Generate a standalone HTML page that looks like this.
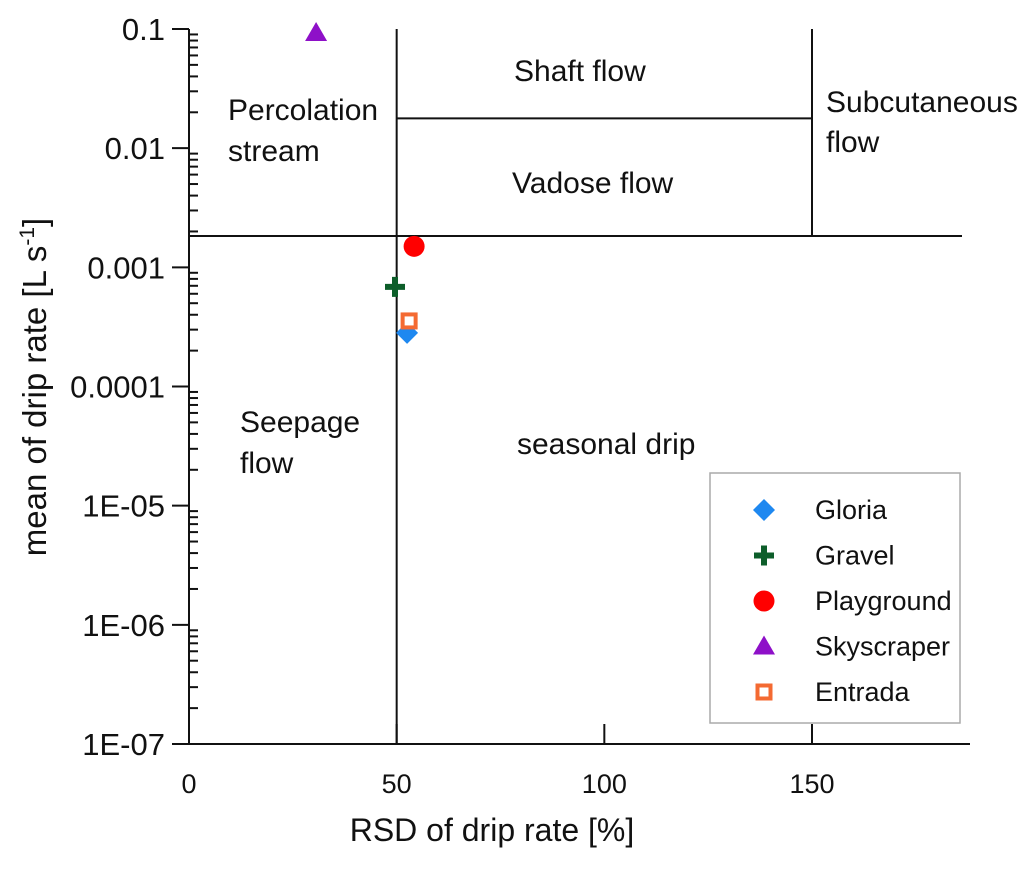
<!DOCTYPE html>
<html><head><meta charset="utf-8"><style>
body{margin:0;background:#fff}
svg text{font-family:"Liberation Sans",sans-serif;fill:#111}
</style></head><body>
<svg id="chart" width="1033" height="864" xmlns="http://www.w3.org/2000/svg">
<g id="axes" stroke="#111" stroke-width="2"></g>
<g id="regions" stroke="#111" stroke-width="2"></g>
<g id="labels" font-size="30">
<text x="228" y="120">Percolation</text>
<text x="228" y="161">stream</text>
<text x="514" y="81">Shaft flow</text>
<text x="512" y="193">Vadose flow</text>
<text x="826" y="112">Subcutaneous</text>
<text x="826" y="152">flow</text>
<text x="240" y="432">Seepage</text>
<text x="240" y="473">flow</text>
<text x="517" y="454">seasonal drip</text>
</g>
<g id="points"></g>
<text x="492" y="841" font-size="32" text-anchor="middle">RSD of drip rate [%]</text>
<text transform="translate(46,387) rotate(-90)" font-size="33" text-anchor="middle">mean of drip rate [L s<tspan dy="-12" font-size="21">-1</tspan><tspan dy="12">]</tspan></text>
<g>
<rect x="710" y="473" width="250" height="250" fill="#fff" stroke="#aaa" stroke-width="1.5"/>
<g id="legend" font-size="27"></g>
</g>
</svg>
<script>
const xTicks=[0,50,100,150];
const yTicks=[0.1,0.01,0.001,0.0001,1e-5,1e-6,1e-7];
const yTickLabels=["0.1","0.01","0.001","0.0001","1E-05","1E-06","1E-07"];
const seriesNames=["Gloria","Gravel","Playground","Skyscraper","Entrada"];
const seriesX=[52.5,49.6,54.2,30.6,53];
const seriesY=[0.000282,0.000685,0.0015,0.0926,0.000355];
const boundaryRSD=[50,150];
const boundaryMean=[0.00183,0.0178];

const NS="http://www.w3.org/2000/svg";
const X=v=>189+v*(812-189)/150;
const Y=v=>29+(-1-Math.log10(v))*(744-29)/6;
function el(t,a,p){const e=document.createElementNS(NS,t);for(const k in a)e.setAttribute(k,a[k]);p.appendChild(e);return e;}
const ax=document.getElementById('axes');
let e=el('line',{x1:X(0),y1:Y(0.1),x2:X(0),y2:Y(1e-7)},ax);


e=el('line',{x1:172,y1:Y(1e-7),x2:970,y2:Y(1e-7)},ax);


const svg=document.getElementById('chart');
yTicks.forEach((t,i)=>{
  el('line',{x1:172,x2:X(0),y1:Y(t),y2:Y(t)},ax);
  const tx=el('text',{x:165,y:Y(t)+11,'font-size':31,'text-anchor':'end'},svg);
  tx.textContent=yTickLabels[i];
  
  
  if(i<yTicks.length-1){for(let m=2;m<=9;m++){const v=t/10*m;el('line',{x1:X(0),x2:X(0)+9,y1:Y(v),y2:Y(v)},ax);}}
});
xTicks.forEach(t=>{
  el('line',{x1:X(t),x2:X(t),y1:Y(1e-7),y2:Y(1e-7)-20},ax);
  const tx=el('text',{x:X(t),y:793,'font-size':27,'text-anchor':'middle'},svg);
  tx.textContent=t;
  
  
});
const rg=document.getElementById('regions');
el('line',{x1:X(0),x2:962,y1:Y(boundaryMean[0]),y2:Y(boundaryMean[0])},rg);
el('line',{x1:X(boundaryRSD[0]),x2:X(boundaryRSD[0]),y1:Y(0.1),y2:Y(1e-7)},rg);
el('line',{x1:X(boundaryRSD[0]),x2:X(boundaryRSD[1]),y1:Y(boundaryMean[1]),y2:Y(boundaryMean[1])},rg);
el('line',{x1:X(boundaryRSD[1]),x2:X(boundaryRSD[1]),y1:Y(0.1),y2:Y(boundaryMean[0])},rg);

function marker(i,cx,cy,p){
  let m;
  if(i===0){m=el('polygon',{points:`${cx},${cy-11} ${cx+11},${cy} ${cx},${cy+11} ${cx-11},${cy}`,fill:'#1e88f0'},p);}
  else if(i===1){m=el('path',{d:`M${cx-10},${cy}H${cx+10}M${cx},${cy-10}V${cy+10}`,stroke:'#0d5e2a','stroke-width':6,fill:'none'},p);}
  else if(i===2){m=el('circle',{cx:cx,cy:cy,r:10.5,fill:'#f00'},p);}
  else if(i===3){m=el('polygon',{points:`${cx},${cy-11} ${cx+11},${cy+8} ${cx-11},${cy+8}`,fill:'#8e10c8'},p);}
  else {m=el('rect',{x:cx-6.5,y:cy-6.5,width:13,height:13,fill:'#fff',stroke:'#f46a32','stroke-width':4},p);}
  return m;
}
const pg=document.getElementById('points');
const lg=document.getElementById('legend');
seriesNames.forEach((n,i)=>{
  const m=marker(i,X(seriesX[i]),Y(seriesY[i]),pg);
  
  
  const ly=510+i*45.5;
  const lm=marker(i,764,ly,lg);
  
  
  const t=el('text',{x:815,y:ly+9},lg);
  t.textContent=n;
  
  
});
</script>
</body></html>
